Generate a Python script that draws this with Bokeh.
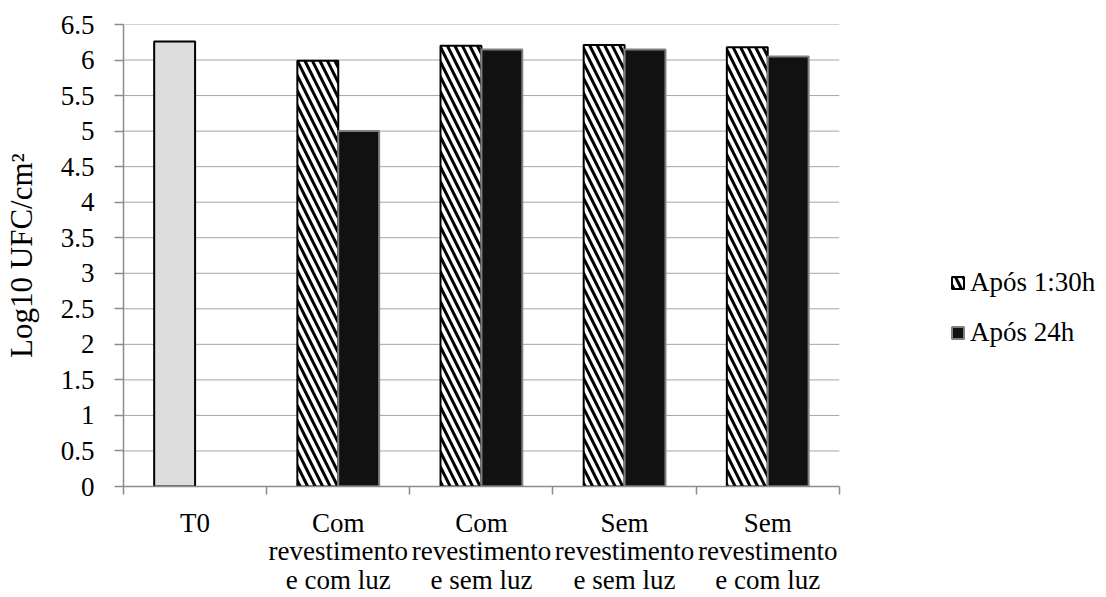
from bokeh.plotting import figure
from bokeh.models import (ColumnDataSource, FixedTicker, Legend, LegendItem,
                          LinearAxis, Range1d)
from bokeh.embed import file_html
from bokeh.resources import INLINE

# ---- data ----
categories = ["T0",
              "Com\nrevestimento\ne com luz",
              "Com\nrevestimento\ne sem luz",
              "Sem\nrevestimento\ne sem luz",
              "Sem\nrevestimento\ne com luz"]
t0_value = [6.26]
apos_130h = [5.99, 6.20, 6.21, 6.18]
apos_24h = [5.00, 6.15, 6.15, 6.05]
series_names = ["Após 1:30h", "Após 24h"]
y_ticks = [0, 0.5, 1, 1.5, 2, 2.5, 3, 3.5, 4, 4.5, 5, 5.5, 6, 6.5]
y_tick_labels = ["0", "0.5", "1", "1.5", "2", "2.5", "3", "3.5", "4", "4.5",
                 "5", "5.5", "6", "6.5"]
y_title = "Log10 UFC/cm²"

FONT = "Liberation Serif"
FS = "27px"

# layout (pixels)
W, H = 1106, 597
LEFT, TOP, BOTTOM = 120, 24, 110
PLOT_W = 718            # width of the category area
FRAME_W = W - LEFT      # frame extends to the right edge so the legend can sit there

n = len(categories)
centers = [i + 0.5 for i in range(n)]
bar_w = 0.2857
off = bar_w / 2
x_end = n * FRAME_W / PLOT_W

t0_src = ColumnDataSource(dict(x=[centers[0] - off], top=t0_value))
s1_src = ColumnDataSource(dict(x=[c - off for c in centers[1:]], top=apos_130h))
s2_src = ColumnDataSource(dict(x=[c + off for c in centers[1:]], top=apos_24h))
grid_src = ColumnDataSource(dict(x0=[0] * len(y_ticks), x1=[n] * len(y_ticks),
                                 y=y_ticks))

p = figure(width=W, height=H, output_backend="svg", toolbar_location=None,
           x_range=Range1d(0, x_end), y_range=Range1d(0, 6.5),
           min_border_left=LEFT, min_border_right=0, min_border_top=TOP,
           min_border_bottom=BOTTOM, x_axis_location=None, y_axis_location=None)
p.outline_line_color = None
p.background_fill_color = "white"
p.border_fill_color = "white"
p.xgrid.visible = False
p.ygrid.visible = False

# horizontal gridlines limited to the category area
p.segment(x0="x0", x1="x1", y0="y", y1="y", source=grid_src,
          line_color="#a6a6a6", line_width=1)

# bars
p.vbar(x="x", top="top", width=bar_w, source=t0_src, fill_color="#dddddd",
       line_color="black", line_width=2)
r1 = p.vbar(x="x", top="top", width=bar_w, source=s1_src, fill_color="white",
            hatch_pattern="\\", hatch_color="black", hatch_scale=15,
            hatch_weight=3, line_color="black", line_width=2)
r2 = p.vbar(x="x", top="top", width=bar_w, source=s2_src, fill_color="#111111",
            line_color="#808080", line_width=2)

# axes
yax = LinearAxis(ticker=FixedTicker(ticks=y_ticks),
                 major_label_overrides={t: l for t, l in zip(y_ticks, y_tick_labels)})
yax.axis_line_color = "#8c8c8c"
yax.axis_line_width = 1.5
yax.major_tick_line_color = "#8c8c8c"
yax.major_tick_line_width = 1.5
yax.major_tick_out = 9
yax.major_tick_in = 0
yax.minor_tick_out = 0
yax.minor_tick_in = 0
yax.major_label_text_font = FONT
yax.major_label_text_font_size = FS
yax.major_label_text_color = "black"
yax.major_label_standoff = 20
yax.axis_label = y_title
yax.axis_label_text_font = FONT
yax.axis_label_text_font_size = "31px"
yax.axis_label_text_font_style = "normal"
yax.axis_label_text_color = "black"
yax.axis_label_standoff = 19
p.add_layout(yax, "left")

xax = LinearAxis(ticker=FixedTicker(ticks=centers, minor_ticks=list(range(n + 1))),
                 major_label_overrides={c: l for c, l in zip(centers, categories)},
                 bounds=(0, n))
xax.axis_line_color = "#8c8c8c"
xax.axis_line_width = 1.5
xax.major_tick_out = 0
xax.major_tick_in = 0
xax.minor_tick_line_color = "#8c8c8c"
xax.minor_tick_line_width = 1.5
xax.minor_tick_out = 8
xax.minor_tick_in = 0
xax.major_label_text_font = FONT
xax.major_label_text_font_size = FS
xax.major_label_text_color = "black"
xax.major_label_text_line_height = 0.95
xax.major_label_standoff = 13
xax.axis_label_standoff = 0
p.add_layout(xax, "below")

legend = Legend(items=[LegendItem(label=series_names[0], renderers=[r1]),
                       LegendItem(label=series_names[1], renderers=[r2])],
                location=(827, 138))
legend.label_text_font = FONT
legend.label_text_font_size = FS
legend.label_text_color = "black"
legend.glyph_width = 15
legend.glyph_height = 15
legend.label_standoff = 5
legend.spacing = 19
legend.padding = 0
legend.margin = 0
legend.border_line_color = None
legend.background_fill_alpha = 0
p.add_layout(legend, "center")

open("out.html", "w").write(file_html(p, INLINE))
